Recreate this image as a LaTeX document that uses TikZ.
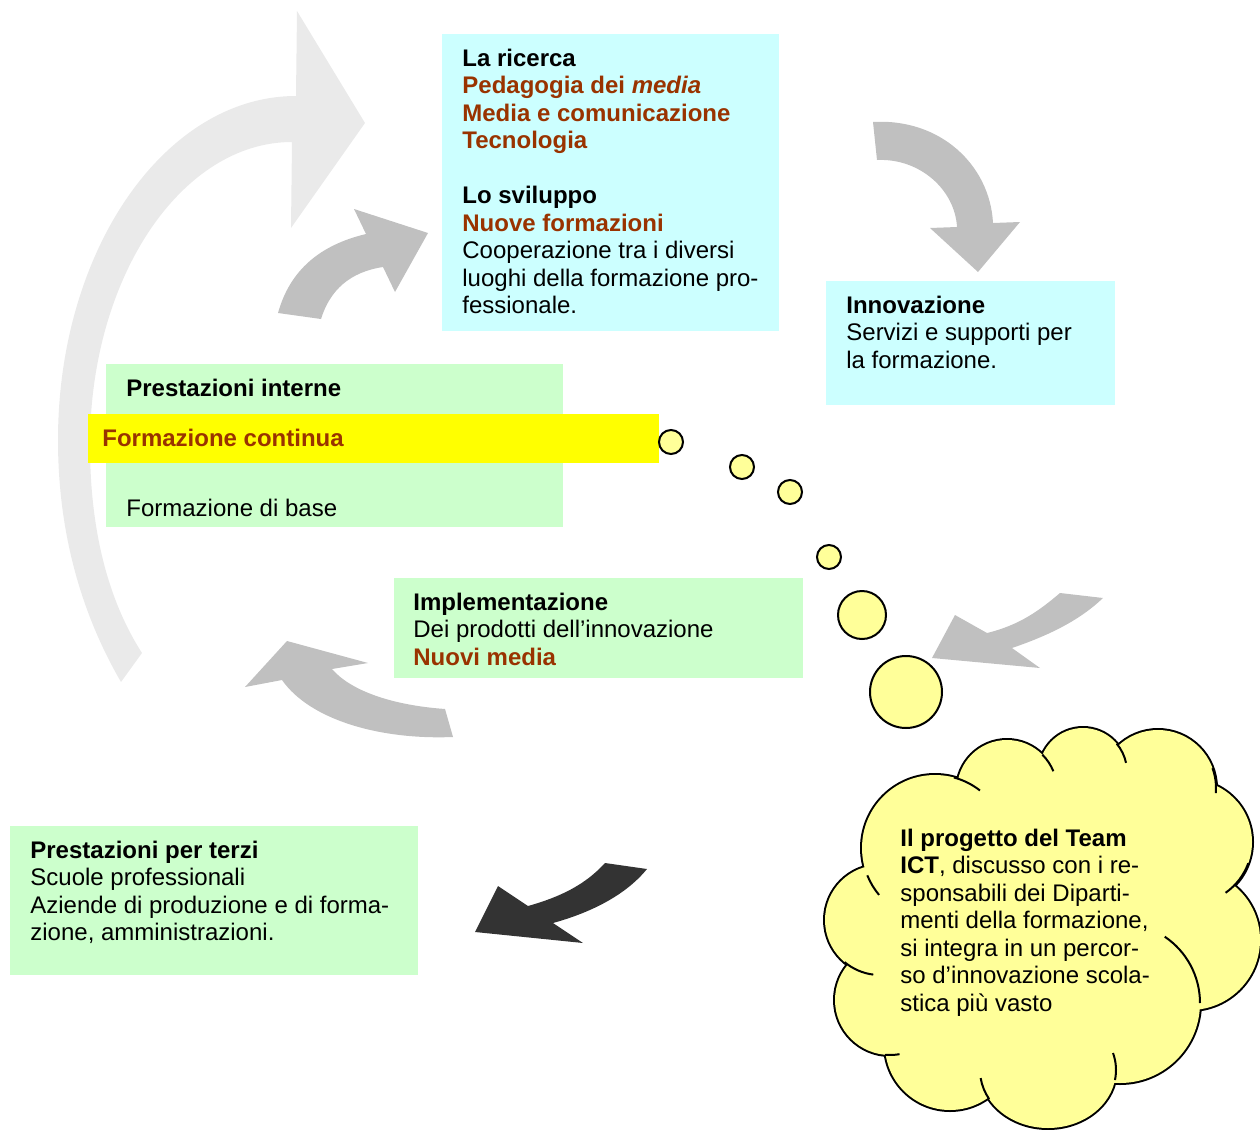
\documentclass[tikz,border=0pt]{standalone}
\usepackage{fontspec}
\setmainfont{Liberation Sans}
\usetikzlibrary{positioning}
\definecolor{celeste}{HTML}{CCFFFF}
\definecolor{verdino}{HTML}{CCFFCC}
\definecolor{giallo}{HTML}{FFFF00}
\definecolor{crema}{HTML}{FFFF99}
\definecolor{mattone}{HTML}{993300}
\definecolor{grigio}{HTML}{C0C0C0}
\definecolor{grigino}{HTML}{EAEAEA}
\definecolor{scuro}{HTML}{333333}
\newcommand\rosso[1]{\textcolor{mattone}{\textbf{#1}}}
\tikzset{testo/.style={anchor=north west,inner sep=0pt,align=left,font=\fontsize{12}{13.75}\selectfont},
  bolla/.style={circle,draw,line width=1pt,fill=crema,inner sep=0pt}}

\begin{document}
\begin{tikzpicture}[x=0.5pt,y=-0.5pt]%
        \useasboundingbox (0,0) rectangle (1260,1130);%%
        %\draw[step=100,color=gray,very thin] (0,0) grid (1260,1130);%%
        % frecce
        \fill[grigino] (296,96) .. controls (165,96) and (58,250) .. (58,440) .. controls (58,540) and (85,620) .. (121,682)%%
          -- (142,653) .. controls (108,600) and (90,530) .. (90,445) .. controls (90,278) and (181,142) .. (292,142)%%
          -- (291,228) -- (365,123) -- (297,11) -- cycle;%%
        \fill[grigio] (278,313) .. controls (290,270) and (320,245) .. (366,234) -- (354,209) -- (428,233)%%
          -- (395,292) -- (383,267) .. controls (350,272) and (330,290) .. (321,319) -- cycle;%%
        \fill[grigio] (873,122) .. controls (940,118) and (990,165) .. (993,223) -- (1020,222) -- (978,272)%%
          -- (930,228) -- (957,227) .. controls (955,190) and (920,158) .. (877,160) -- cycle;%%
        \fill[grigio] (1060,593) .. controls (1040,610) and (1020,625) .. (987,633) -- (955,615) -- (932,658)%%
          -- (1040,668) -- (1012,648) .. controls (1050,635) and (1080,620) .. (1103,598) -- cycle;%%
        \fill[grigio] (445,709) .. controls (390,705) and (350,690) .. (332,669) -- (368,663) -- (287,641)%%
          -- (245,687) -- (282,680) .. controls (310,720) and (380,740) .. (453,737) -- cycle;%%
        \fill[scuro] (605,863) .. controls (585,885) and (560,897) .. (528,906) -- (498,886) -- (475,932)%%
          -- (583,943) -- (553,923) .. controls (600,910) and (630,890) .. (647,869) -- cycle;%%
        % riquadri
        \fill[celeste] (442,34) rectangle (779,331);%%
        \fill[celeste] (826,281) rectangle (1115,405);%%
        \fill[verdino] (106,364) rectangle (563,527);%%
        \fill[giallo] (88,414) rectangle (659,463);%%
        \fill[verdino] (394,578) rectangle (803,678);%%
        \fill[verdino] (10,826) rectangle (418,975);%%
        % nuvola
        \foreach \cx/\cy/\r in {935/848/73,1007/790/50,1083/772/44,1158/788/58,1190/842/62,1190/940/70,1120/1003/80,950/1045/65,890/1000/55,880/920/55}
          \draw[line width=2pt] (\cx,\cy) circle[radius=\r];%%
        \draw[line width=2pt] (1048,1070) ellipse[x radius=68,y radius=58];%%
        \foreach \cx/\cy/\r in {935/848/73,1007/790/50,1083/772/44,1158/788/58,1190/842/62,1190/940/70,1120/1003/80,950/1045/65,890/1000/55,880/920/55}
          \fill[crema] (\cx,\cy) circle[radius=\r];%%
        \fill[crema] (1048,1070) ellipse[x radius=68,y radius=58];%%
        \fill[crema] (1040,930) ellipse[x radius=170,y radius=150];%%
        \begin{scope}[line width=1pt]
        \draw (935,848) ++(-75:73) arc[start angle=-75,end angle=-52,radius=73];%%
        \draw (1007,790) ++(-45:50) arc[start angle=-45,end angle=-22,radius=50];%%
        \draw (1083,772) ++(-40:44) arc[start angle=-40,end angle=-12,radius=44];%%
        \draw (1158,788) ++(-20:58) arc[start angle=-20,end angle=5,radius=58];%%
        \draw (1190,842) ++(20:62) arc[start angle=20,end angle=55,radius=62];%%
        \draw (1120,1003) ++(-56:80) arc[start angle=-56,end angle=0,radius=80];%%
        \draw (1048,1070) ++(10:68 and 58) arc[start angle=10,end angle=-17,x radius=68,y radius=58];%%
        \draw (1048,1070) ++(150:68 and 58) arc[start angle=150,end angle=172,x radius=68,y radius=58];%%
        \draw (890,1000) ++(95:55) arc[start angle=95,end angle=80,radius=55];%%
        \draw (880,920) ++(130:55) arc[start angle=130,end angle=97,radius=55];%%
        \draw (935,848) ++(140:73) arc[start angle=140,end angle=158,radius=73];%%
        \end{scope}
        % bolle
        \node[bolla,minimum size=12pt] (b1) at (671,442) {};%%
        \node[bolla,minimum size=12pt] (b2) at (742,467) {};%%
        \node[bolla,minimum size=12pt] (b3) at (790,492) {};%%
        \node[bolla,minimum size=12pt] (b4) at (829,557) {};%%
        \node[bolla,minimum size=24pt] (b5) at (862,615) {};%%
        \node[bolla,minimum size=36pt] (b6) at (906,692) {};%%
        % testi
        \node[testo] (ricerca) at (462,46.75) {\strut\textbf{La ricerca}\\
          \rosso{Pedagogia dei \textit{media}}\\
          \rosso{Media e comunicazione}\\
          \rosso{Tecnologia}\\[13.75pt]
          \textbf{Lo sviluppo}\\
          \rosso{Nuove formazioni}\\
          Cooperazione tra i diversi\\
          luoghi della formazione pro-\\
          fessionale.};%%
        \node[testo] (innov) at (846,293.75) {\strut\textbf{Innovazione}\\Servizi e supporti per\\la formazione.};%%
        \node[testo] (interne) at (126,376.75) {\strut\textbf{Prestazioni interne}};%%
        \node[testo] (continua) at (102,426.75) {\strut\rosso{Formazione continua}};%%
        \node[testo] (base) at (126,496.75) {\strut Formazione di base};%%
        \node[testo] (implem) at (413,590.75) {\strut\textbf{Implementazione}\\Dei prodotti dell’innovazione\\\rosso{Nuovi media}};%%
        \node[testo] (terzi) at (30,838.75) {\strut\textbf{Prestazioni per terzi}\\Scuole professionali\\Aziende di produzione e di forma-\\zione, amministrazioni.};%%
        \node[testo] (team) at (900,826.75) {\strut\textbf{Il progetto del Team}\\\textbf{ICT}, discusso con i re-\\sponsabili dei Diparti-\\menti della formazione,\\si integra in un percor-\\so d’innovazione scola-\\stica più vasto};%%
\end{tikzpicture}
\end{document}
